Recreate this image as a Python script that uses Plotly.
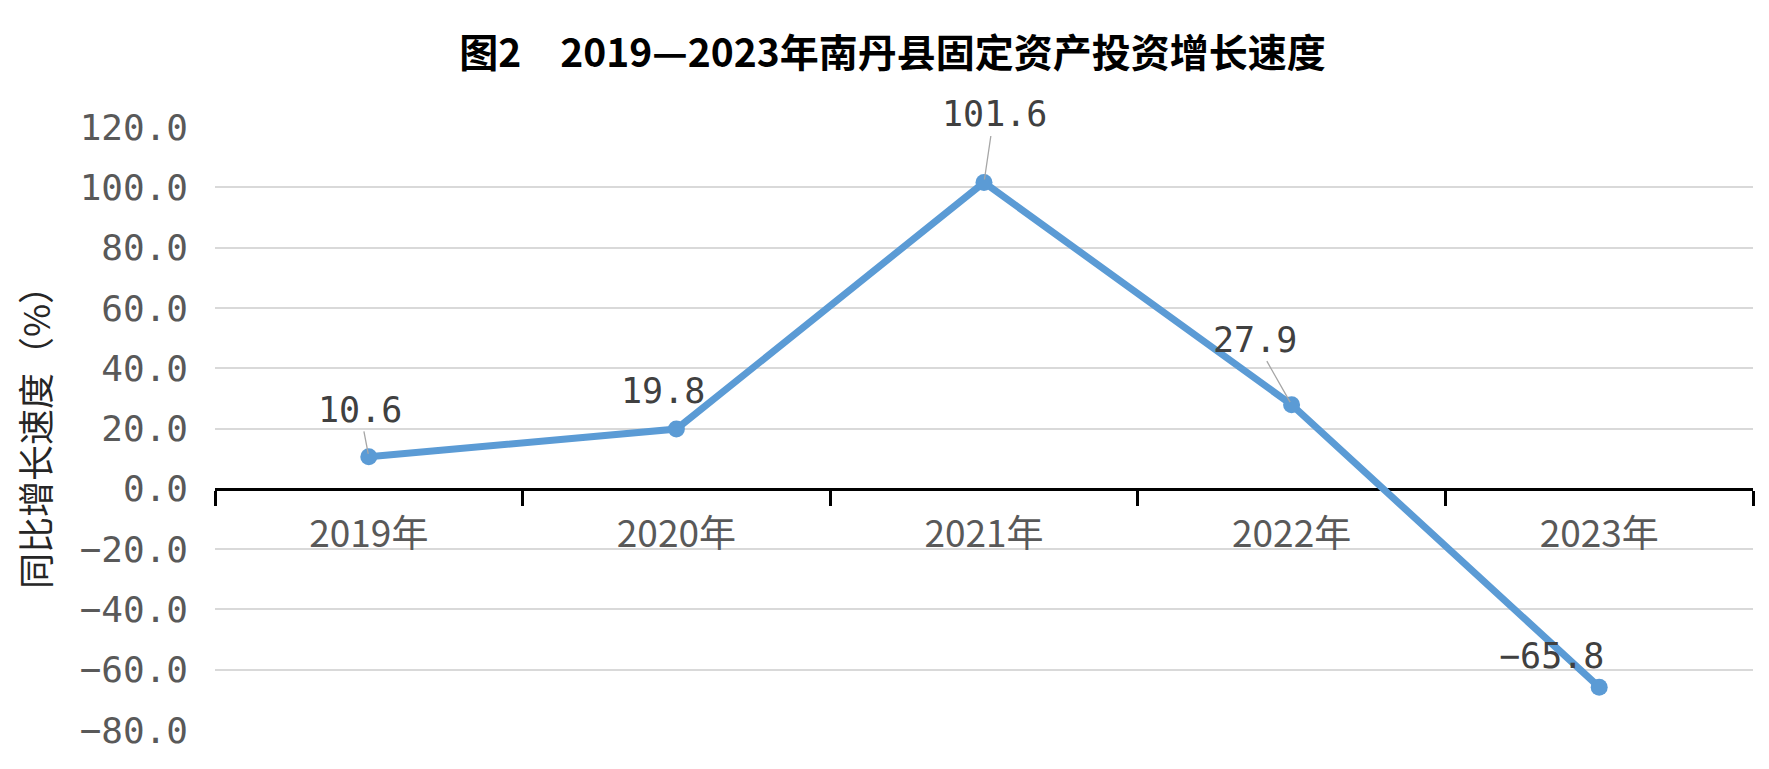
import plotly.graph_objects as go

years = ["2019年", "2020年", "2021年", "2022年", "2023年"]
growth = [10.6, 19.8, 101.6, 27.9, -65.8]
y_ticks = [120, 100, 80, 60, 40, 20, 0, -20, -40, -60, -80]

y_min, y_max = -80, 120
title = "图2　2019—2023年南丹县固定资产投资增长速度"
y_title = "同比增长速度（%）"

# label placement (pixel offsets from the point), like Excel's dragged labels
label_dx = [-9, -13, 10, -37, -48]
label_dy = [-47, -38, -68, -65, -31]
label_leader = [True, False, True, True, False]

blue = "#5B9BD5"
grey_txt = "#595959"
mono = "DejaVu Sans Mono"
cjk = "Noto Sans CJK SC"

fig = go.Figure()
fig.add_trace(go.Scatter(
    x=years, y=growth, mode="lines+markers",
    line=dict(color=blue, width=7),
    marker=dict(color=blue, size=17),
    hoverinfo="x+y", showlegend=False,
))

for yr, val, dx, dy, lead in zip(years, growth, label_dx, label_dy, label_leader):
    txt = f"{val:.1f}".replace("-", "\u2212")
    lbl_font = dict(family=mono, size=35, color="#404040")
    if lead:
        fig.add_annotation(
            x=yr, y=val, text=txt, showarrow=True,
            ax=dx, ay=dy, arrowhead=0, arrowwidth=1.3, arrowcolor="#a6a6a6",
            standoff=3, font=lbl_font,
        )
    else:
        fig.add_annotation(
            x=yr, y=val, text=txt, showarrow=False,
            xshift=dx, yshift=-dy, font=lbl_font,
        )

fig.update_layout(
    width=1769, height=769,
    margin=dict(l=207, r=24, t=119, b=47),
    paper_bgcolor="white", plot_bgcolor="white",
    title=dict(text=title, x=0.5, xanchor="center", y=1 - 45 / 769, yanchor="middle",
               font=dict(family=cjk, size=39, color="black", weight="bold")),
    xaxis=dict(
        type="category", range=[-0.5, len(years) - 0.5], anchor="free",
        position=(0 - y_min) / (y_max - y_min),
        showline=True, linecolor="black", linewidth=3,
        ticks="outside", tickson="boundaries", ticklen=15, tickwidth=3, tickcolor="black",
        ticklabelstandoff=12,
        showgrid=False, layer="below traces",
        tickfont=dict(family=cjk, size=37, color=grey_txt),
    ),
    yaxis=dict(
        range=[y_min, y_max], tickvals=y_ticks, tickformat=".1f",
        showgrid=True, gridcolor="#d9d9d9", gridwidth=1.5,
        zeroline=False, showline=False, ticks="",
        ticklabelstandoff=26,
        tickfont=dict(family=mono, size=36, color=grey_txt),
        title=dict(text=y_title, standoff=18,
                   font=dict(family=cjk, size=36, color="#262626")),
    ),
)

fig.write_html("out.html")
